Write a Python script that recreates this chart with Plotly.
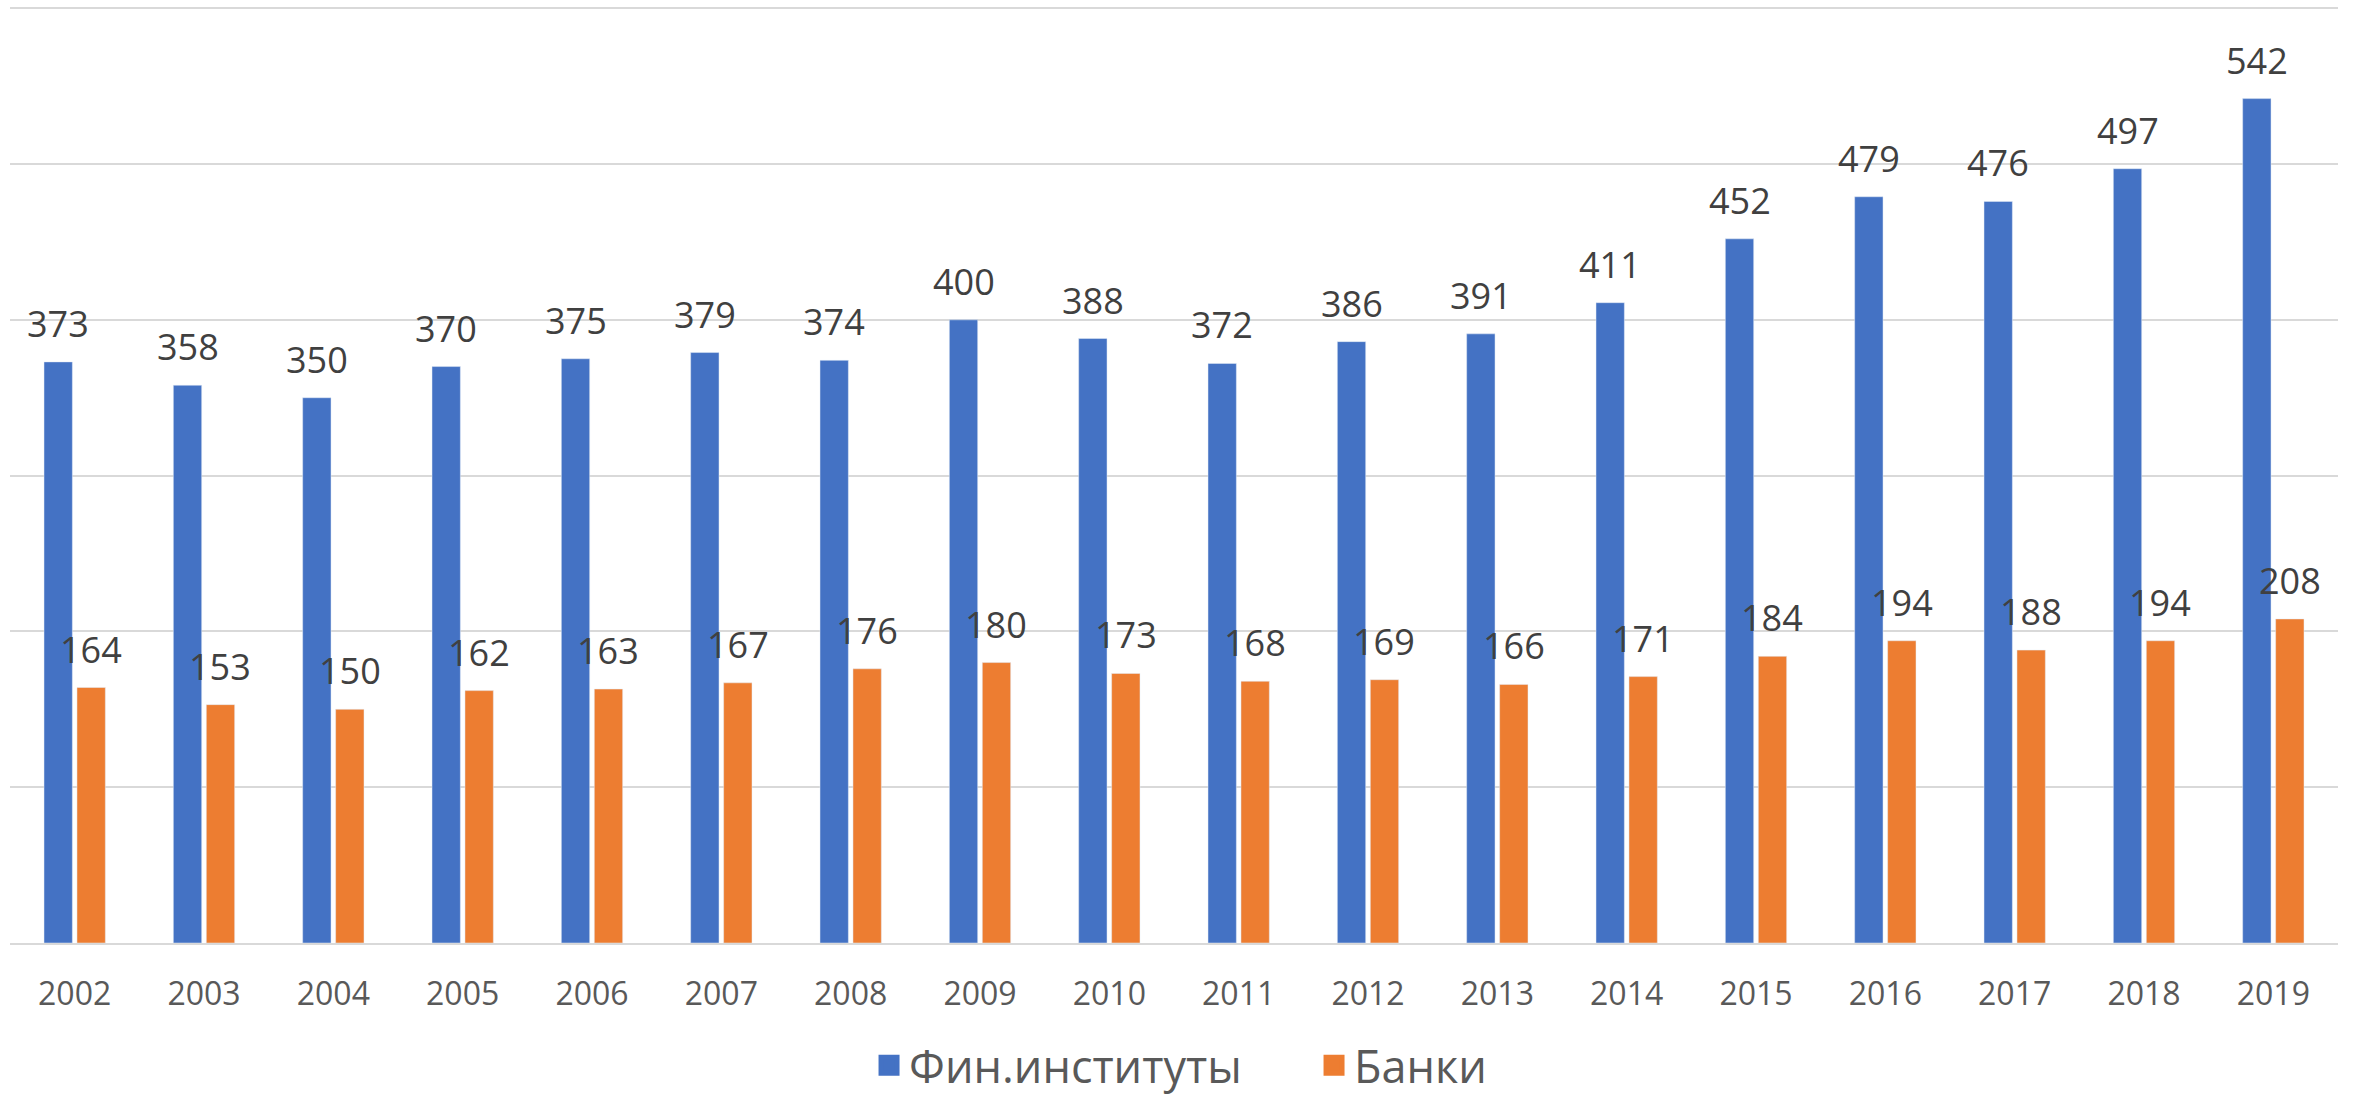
import plotly.graph_objects as go

years = [str(y) for y in range(2002, 2020)]
fin = [373, 358, 350, 370, 375, 379, 374, 400, 388, 372, 386, 391, 411, 452, 479, 476, 497, 542]
banks = [164, 153, 150, 162, 163, 167, 176, 180, 173, 168, 169, 166, 171, 184, 194, 188, 194, 208]
series_names = ["Фин.институты", "Банки"]
colors = ["#4472C4", "#ED7D31"]

FONT = "Open Sans"
BARGAP = 0.49
fig = go.Figure()
for name, vals, col in zip(series_names, [fin, banks], colors):
    fig.add_trace(go.Bar(x=years, y=vals, name=name, marker_color=col, showlegend=False))
for name, col in zip(series_names, colors):
    fig.add_trace(go.Scatter(x=[None], y=[None], mode="markers", name=name,
                             marker=dict(symbol="square", size=29, color=col,
                                         line=dict(color=col, width=6))))

# data labels above each bar (offset within group derived from bargap)
slot = (1 - BARGAP) / 2
for k, vals in enumerate([fin, banks]):
    dx = (k - 0.5) * slot
    for i, v in enumerate(vals):
        fig.add_annotation(x=i + dx, y=v, xref="x", yref="y", text=str(v),
                           showarrow=False, yanchor="bottom", xanchor="center", yshift=12,
                           font=dict(size=36, color="#404040", family=FONT))

fig.update_layout(
    width=2354, height=1095,
    margin=dict(l=10, r=16, t=7, b=152),
    paper_bgcolor="white", plot_bgcolor="white",
    barmode="group", bargap=BARGAP, bargroupgap=0.14,
    font=dict(family=FONT, color="#595959"),
    showlegend=True,
    legend=dict(orientation="h", x=0.369, xanchor="left", y=0.027, yanchor="middle",
                yref="container", font=dict(size=45, color="#595959", family=FONT),
                itemwidth=30, entrywidth=400, tracegroupgap=0),
    xaxis=dict(type="category", showgrid=False, showline=True, linecolor="#d9d9d9", linewidth=2,
               ticks="", tickfont=dict(size=32, color="#595959", family=FONT),
               ticklabelstandoff=22),
    yaxis=dict(range=[0, 600.8], tickvals=[100, 200, 300, 400, 500, 600], showgrid=True,
               gridcolor="#d9d9d9", gridwidth=2,
               showticklabels=False, zeroline=False, ticks=""),
)
fig.write_html("out.html")
